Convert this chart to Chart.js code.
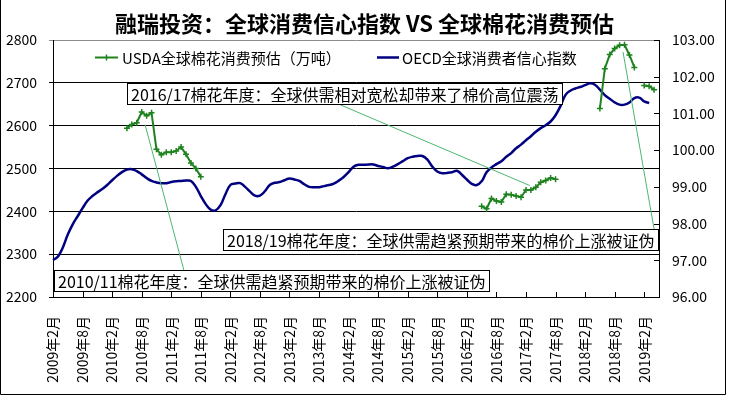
<!DOCTYPE html>
<html><head><meta charset="utf-8">
<script src="https://cdn.jsdelivr.net/npm/chart.js@4.4.1/dist/chart.umd.min.js"></script>
<style>html,body{margin:0;padding:0;background:#fff;}canvas{display:block;}</style>
</head><body>
<canvas id="c" width="729" height="398"></canvas>
<script>
// ---- categories (monthly, 2009年2月 .. 2019年5月) ----
const START_YEAR = 2009, START_MONTH = 2, MONTH_COUNT = 124;
const months = [];
for (let k = 0; k < MONTH_COUNT; k++) {
  const t = START_MONTH - 1 + k;
  months.push(`${START_YEAR + Math.floor(t / 12)}年${t % 12 + 1}月`);
}

// ---- OECD 全球消费者信心指数 (right axis), monthly from 2009年2月 ----
const oecd = [97.01,97.10,97.35,97.70,97.98,98.20,98.42,98.62,98.75,98.85,
  98.94,99.05,99.18,99.30,99.40,99.47,99.48,99.43,99.34,99.24,
  99.16,99.12,99.10,99.10,99.13,99.15,99.16,99.17,99.16,99.00,
  98.75,98.53,98.38,98.36,98.50,98.80,99.05,99.09,99.10,99.00,
  98.87,98.76,98.76,98.88,99.05,99.11,99.13,99.18,99.23,99.20,
  99.16,99.07,99.00,98.99,98.99,99.02,99.05,99.09,99.17,99.27,
  99.40,99.55,99.60,99.60,99.61,99.61,99.57,99.54,99.51,99.55,
  99.62,99.70,99.78,99.82,99.84,99.84,99.74,99.55,99.42,99.37,
  99.38,99.40,99.44,99.33,99.20,99.08,99.05,99.15,99.40,99.53,
  99.62,99.70,99.82,99.92,100.05,100.15,100.27,100.38,100.50,100.60,
  100.68,100.78,100.95,101.20,101.50,101.62,101.68,101.72,101.77,101.82,
  101.78,101.65,101.50,101.40,101.30,101.24,101.24,101.30,101.42,101.43,
  101.33,101.28];

// ---- USDA 全球棉花消费预估（万吨）(left axis), monthly estimates per crop year ----
const usda1011Start = '2010年5月';
const usda1011 = [2594,2603,2607,2632,2623,2630,2545,2532,2538,2538,2541,2550,2533,2513,2500,2481];
const usda1617Start = '2016年5月';
const usda1617 = [2412,2406,2430,2424,2422,2440,2439,2436,2433,2450,2450,2456,2468,2472,2478,2475];
const usda1819Start = '2018年5月';
const usda1819 = [2640,2733,2766,2780,2788,2789,2765,2736,null,2694,2692,2684];

// ---- axis ticks ----
const leftTicks = [2200,2300,2400,2500,2600,2700,2800];
const rightTicks = [96,97,98,99,100,101,102,103];
const xTickEvery = 6;

// ---- text ----
const titleText = '融瑞投资：全球消费信心指数 VS 全球棉花消费预估';
const usdaLabel = 'USDA全球棉花消费预估（万吨）';
const oecdLabel = 'OECD全球消费者信心指数';
const notes = [
  {text: '2016/17棉花年度：全球供需相对宽松却带来了棉价高位震荡', box: [15, 2700], from: [58.25, 2649], to: [96.8, 2460]},
  {text: '2018/19棉花年度：全球供需趋紧预期带来的棉价上涨被证伪', box: [34.5, 2359], from: [115.7, 2772], to: [122, 2359]},
  {text: '2010/11棉花年度：全球供需趋紧预期带来的棉价上涨被证伪', box: [0.3, 2263], from: [18.7, 2602], to: [26.6, 2261]}
];

// build the full USDA series table
const usdaSeries = new Array(months.length).fill(null);
[[usda1011Start, usda1011], [usda1617Start, usda1617], [usda1819Start, usda1819]].forEach(([m, arr]) => {
  const s = months.indexOf(m);
  arr.forEach((v, k) => { usdaSeries[s + k] = v; });
});

const FONT = '"Noto Sans CJK SC", "Noto Sans", sans-serif';
const GREEN = '#1e821e';
const NAVY = '#000080';
const LEAD = '#4cb870';

const decor = {
  id: 'decor',
  beforeDraw(chart) {
    const ctx = chart.ctx;
    ctx.save();
    ctx.fillStyle = '#fff';
    ctx.fillRect(0, 0, chart.width, chart.height);
    ctx.restore();
  },
  afterDatasetsDraw(chart) {
    const ctx = chart.ctx, a = chart.chartArea;
    const xs = chart.scales.x, ys = chart.scales.y, y1 = chart.scales.y1;
    ctx.save();
    // inner tick marks on x axis
    ctx.strokeStyle = '#000'; ctx.lineWidth = 1;
    ctx.beginPath();
    for (let i = 0; i < months.length; i += xTickEvery) {
      const px = Math.round(xs.getPixelForValue(i)) + 0.5;
      ctx.moveTo(px, a.bottom); ctx.lineTo(px, a.bottom - 5);
    }
    // inner tick marks on right axis
    rightTicks.forEach(v => {
      const py = Math.round(y1.getPixelForValue(v)) + 0.5;
      ctx.moveTo(a.right - 5, py); ctx.lineTo(a.right, py);
    });
    ctx.stroke();

    // leader lines
    ctx.strokeStyle = LEAD; ctx.lineWidth = 1;
    notes.forEach(n => {
      ctx.beginPath();
      ctx.moveTo(xs.getPixelForValue(n.from[0]), ys.getPixelForValue(n.from[1]));
      ctx.lineTo(xs.getPixelForValue(n.to[0]), ys.getPixelForValue(n.to[1]));
      ctx.stroke();
    });
    // annotation boxes
    ctx.font = '16px ' + FONT;
    ctx.textBaseline = 'middle';
    ctx.textAlign = 'left';
    notes.forEach(n => {
      const bx = Math.round(xs.getPixelForValue(n.box[0])) + 0.5;
      const by = Math.round(ys.getPixelForValue(n.box[1])) + 0.5;
      const w = Math.round(ctx.measureText(n.text).width) + 7;
      const h = 21;
      ctx.fillStyle = '#fff';
      ctx.fillRect(bx, by, w, h);
      ctx.strokeStyle = '#000';
      ctx.strokeRect(bx, by, w, h);
      ctx.fillStyle = '#000';
      ctx.fillText(n.text, bx + 3.5, by + h / 2 + 1);
    });

    // legend (inside plot area)
    const d0 = chart.data.datasets[0], d1 = chart.data.datasets[1];
    const ly = 57.5;
    ctx.font = '15px ' + FONT;
    ctx.strokeStyle = d0.borderColor; ctx.lineWidth = 2;
    ctx.beginPath(); ctx.moveTo(95, ly); ctx.lineTo(118, ly); ctx.stroke();
    ctx.lineWidth = 1.5;
    ctx.beginPath(); ctx.moveTo(106.5, ly - 3); ctx.lineTo(106.5, ly + 3); ctx.stroke();
    ctx.fillStyle = '#000';
    ctx.fillText(d0.label, 122, ly + 1);
    ctx.strokeStyle = d1.borderColor; ctx.lineWidth = 2.5;
    ctx.beginPath(); ctx.moveTo(377, ly); ctx.lineTo(399, ly); ctx.stroke();
    ctx.fillText(d1.label, 402, ly + 1);
    ctx.restore();
  },
  afterDraw(chart) {
    const ctx = chart.ctx;
    ctx.save();
    ctx.strokeStyle = '#000'; ctx.lineWidth = 1;
    ctx.beginPath();
    ctx.moveTo(0.5, 0); ctx.lineTo(0.5, 394.5); ctx.lineTo(725.5, 394.5); ctx.lineTo(725.5, 0);
    ctx.stroke();
    ctx.restore();
  }
};

new Chart(document.getElementById('c'), {
  type: 'line',
  data: {
    labels: months,
    datasets: [
      {
        label: usdaLabel, data: usdaSeries, yAxisID: 'y',
        borderColor: GREEN, backgroundColor: GREEN, borderWidth: 2,
        pointStyle: 'cross', pointRadius: 3, pointBorderWidth: 1.5,
        pointBorderColor: GREEN, tension: 0, spanGaps: false
      },
      {
        label: oecdLabel, data: oecd, yAxisID: 'y1',
        borderColor: NAVY, backgroundColor: NAVY, borderWidth: 2.5,
        pointRadius: 0, tension: 0.4
      }
    ]
  },
  options: {
    responsive: false, animation: false, devicePixelRatio: 1,
    layout: {padding: 0},
    plugins: {
      legend: {display: false},
      tooltip: {enabled: false},
      title: {
        display: true, text: titleText, color: '#000',
        font: {family: FONT, size: 22, weight: 'bold', lineHeight: 1.2},
        padding: {top: 10, bottom: 3.6}
      }
    },
    scales: {
      x: {
        type: 'category',
        grid: {display: false, drawTicks: false},
        border: {display: true, color: '#000', width: 1},
        ticks: {
          autoSkip: false, maxRotation: 90, minRotation: 90, padding: 19,
          color: '#000', font: {family: FONT, size: 14},
          callback: function (v, i) { return i % xTickEvery === 0 ? months[i] : null; }
        },
        afterFit(s) { s.height = 101; }
      },
      y: {
        position: 'left', min: leftTicks[0], max: leftTicks[leftTicks.length - 1],
        afterBuildTicks(s) { s.ticks = leftTicks.map(v => ({value: v})); },
        grid: {
          color: c => (c.tick && c.tick.value === 2800) ? '#8c8c8c' : '#000',
          lineWidth: 1, drawTicks: true, tickLength: 4
        },
        border: {display: true, color: '#000', width: 1},
        ticks: {padding: 12, color: '#000', font: {family: FONT, size: 14}, callback: v => String(v)},
        afterFit(s) { s.width = 53; }
      },
      y1: {
        position: 'right', min: rightTicks[0], max: rightTicks[rightTicks.length - 1],
        afterBuildTicks(s) { s.ticks = rightTicks.map(v => ({value: v})); },
        grid: {display: false, drawTicks: false},
        border: {display: true, color: '#000', width: 1},
        ticks: {
          padding: 13, color: '#000', font: {family: FONT, size: 14},
          callback: v => Number(v).toFixed(2)
        },
        afterFit(s) { s.width = 70; }
      }
    }
  },
  plugins: [decor]
});
</script>
</body></html>
